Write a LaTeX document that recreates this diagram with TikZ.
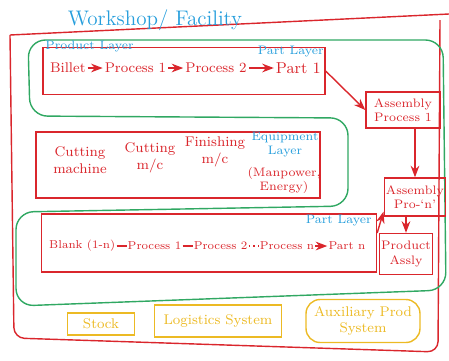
\documentclass[tikz,border=0pt]{standalone}
\usepackage{tikz}
\usetikzlibrary{arrows.meta,positioning}

\definecolor{inkred}{RGB}{218,38,44}
\definecolor{inkblue}{RGB}{38,158,220}
\definecolor{inkgreen}{RGB}{48,168,98}
\definecolor{inkyellow}{RGB}{236,186,36}

\begin{document}
\begin{tikzpicture}[
    x=0.02cm, y=-0.02cm,
    >=Stealth,
    node distance=3mm,
    every node/.style={font=\footnotesize},
    redbox/.style={draw=inkred, thick, inner sep=0pt},
    yelbox/.style={draw=inkyellow, thick, inner sep=0pt, text=inkyellow},
    redtext/.style={text=inkred, inner sep=1pt, align=center},
    bluetext/.style={text=inkblue, font=\scriptsize, inner sep=0pt, align=center},
    rowtext/.style={redtext, inner sep=0.5pt, font=\fontsize{6.5}{7}\selectfont},
    redarrow/.style={->, draw=inkred, thick}
  ]
    \useasboundingbox (0,0) rectangle (449,360);

    % Werkstatt / Anlage
    \draw[inkred, thick, rounded corners=6] (10,35) -- (449,14) (440,20) -- (438,352) -- (14,338) -- (10,35);
    \node[bluetext, font=\large] (title) at (155,20) {Workshop/ Facility};

    % Gruene Schichten
    \draw[inkgreen, thick, rounded corners=10] (28,40) -- (443,40) -- (446,290) -- (16,306)
      -- (16,212) -- (348,206) -- (348,118) -- (30,116) -- cycle;

    % Produktschicht
    \node[redbox, minimum width=5.64cm, minimum height=0.94cm] (prod) at (184,71) {};
    \node[bluetext, anchor=south west] (prodlabel) at (45,52) {Product Layer};
    \node[bluetext, anchor=north east] (partlayer1) at (324,46) {Part Layer};
    \node[redtext, anchor=west] (billet) at (48,68) {Billet};
    \node[redtext, right=of billet] (proc1) {Process 1};
    \node[redtext, right=of proc1] (proc2) {Process 2};
    \node[redtext, right=5mm of proc2, font=\small] (part1) {Part 1};
    \draw[redarrow] (billet) -- (proc1);
    \draw[redarrow] (proc1) -- (proc2);
    \draw[redarrow] (proc2) -- (part1);

    % Ausruestungsschicht
    \node[redbox, minimum width=5.68cm, minimum height=1.32cm] (equip) at (178,165) {};
    \node[redtext] (cutmach) at (80,160) {Cutting\\machine};
    \node[redtext] (cutmc) at (150,158) {Cutting\\m/c};
    \node[redtext] (finmc) at (215,152) {Finishing\\m/c};
    \node[bluetext] (equiplabel) at (285,145) {Equipment\\Layer};
    \node[redtext, font=\scriptsize] (manpower) at (284,180) {(Manpower,\\Energy)};

    % Teileschicht
    \node[redbox, minimum width=6.7cm, minimum height=1.16cm] (blank) at (209,243) {};
    \node[bluetext, anchor=south east] (partlayer2) at (372,226) {Part Layer};
    \node[rowtext, anchor=west] (blankn) at (48,246) {Blank (1-n)};
    \node[rowtext, right=2mm of blankn] (bproc1) {Process 1};
    \node[rowtext, right=2mm of bproc1] (bproc2) {Process 2};
    \node[rowtext, right=2mm of bproc2] (bprocn) {Process n};
    \node[rowtext, right=2.4mm of bprocn] (partn) {Part n};
    \draw[inkred, thick] (blankn) -- (bproc1);
    \draw[inkred, thick] (bproc1) -- (bproc2);
    \draw[inkred, thick, dotted] (bproc2) -- (bprocn);
    \draw[redarrow] (bprocn) -- (partn);

    % Montage
    \node[redbox, redtext, font=\scriptsize, minimum width=1.48cm, minimum height=0.72cm] (asm1) at (403,110) {Assembly\\Process 1};
    \node[redbox, redtext, font=\scriptsize, minimum width=1.02cm, minimum height=0.76cm] (asmn) at (415,197) {Assembly\\Pro-`n'};
    \node[redbox, redtext, font=\scriptsize, minimum width=0.86cm, minimum height=0.82cm] (assly) at (406,254) {Product\\Assly};
    \draw[redarrow] (prod.east) -- (asm1.west);
    \draw[redarrow] (asm1.south -| asmn) -- (asmn);
    \draw[redarrow] (asmn.south -| assly) -- (assly);
    \draw[redarrow] ([yshift=0.2cm]blank.east) -- ([yshift=0.1cm]asmn.south west);

    % Hilfssysteme
    \node[yelbox, minimum width=1.34cm, minimum height=0.44cm] (stock) at (101,324) {Stock};
    \node[yelbox, minimum width=2.54cm, minimum height=0.64cm] (logi) at (218,321) {Logistics System};
    \node[yelbox, rounded corners=8, align=center, minimum width=2.28cm, minimum height=0.86cm] (aux) at (363,321) {Auxiliary Prod\\System};
  \end{tikzpicture}
\end{document}
